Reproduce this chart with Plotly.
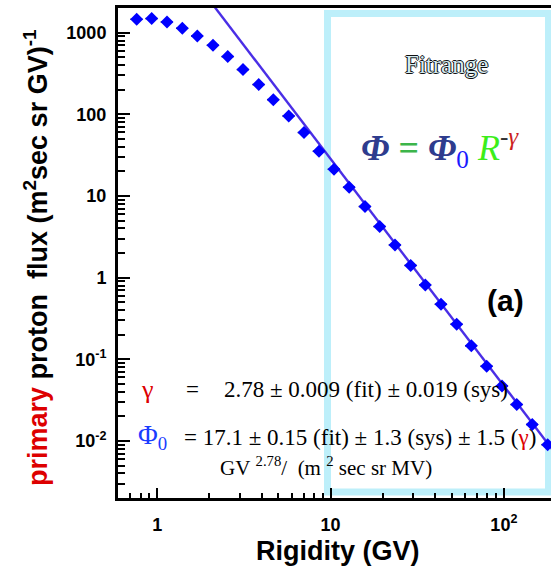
import numpy as np
import plotly.graph_objects as go

# ---- data ----
rigidity = [0.760, 0.928, 1.137, 1.394, 1.701, 2.096, 2.549, 3.123, 3.847, 4.671,
            5.731, 7.022, 8.574, 10.46, 12.80, 15.79, 19.20, 23.53, 28.99, 35.20,
            43.36, 53.41, 64.86, 79.58, 97.5, 118.6, 145.8, 178.9]
flux = [1455, 1484, 1349, 1129, 908, 699, 508, 352, 231, 151,
        95.3, 59.7, 35.3, 21.2, 12.8, 7.41, 4.22, 2.51, 1.41, 0.814,
        0.472, 0.269, 0.146, 0.0823, 0.0472, 0.0279, 0.0159, 0.0090]
gamma = 2.78
phi0 = 17.1          # GV^2.78 / (m^2 sec sr MV)
phi0_gv = phi0 * 1000.0

x_tickvals = [1, 10, 100]
x_ticktext = ["1", "10", "10<sup>2</sup>"]
y_tickvals = [0.01, 0.1, 1, 10, 100, 1000]
y_ticktext = ["10<sup>-2</sup>", "10<sup>-1</sup>", "1", "10", "100", "1000"]
x_minor = [m * d for d in (0.1, 1, 10, 100) for m in range(2, 10)]
y_minor = [m * d for d in (0.001, 0.01, 0.1, 1, 10, 100, 1000) for m in range(2, 10)]

# ---- layout geometry (pixels) ----
W, H = 551, 569
L, R, T, B = 118, 551, 8, 498
def px(x):
    return (x - L) / (R - L)
def py(y):
    return (B - y) / (B - T)

SANS = "Liberation Sans, Arial, sans-serif"
SERIF = "Liberation Serif, Times New Roman, serif"

fit_x = np.logspace(np.log10(0.5), np.log10(250), 50)
fit_y = phi0_gv * fit_x ** (-gamma)

fig = go.Figure()
fig.add_trace(go.Scatter(x=fit_x, y=fit_y, mode="lines",
                         line=dict(color="#4a2ee6", width=2.4), hoverinfo="skip"))
fig.add_trace(go.Scatter(x=rigidity, y=flux, mode="markers",
                         marker=dict(symbol="diamond", size=10, color="#0000ff",
                                     line=dict(width=0)),
                         error_x=dict(type="percent", value=8, thickness=1.5,
                                      width=0, color="#222222"),
                         cliponaxis=False))

fig.add_shape(type="rect", xref="paper", yref="paper",
              x0=px(327.5), x1=px(548.5), y0=py(492), y1=py(13.5),
              line=dict(color="#bdeffa", width=7), layer="below")

ann = []
def A(text, x, y, size, family=SERIF, color="black", xanchor="center", weight="normal", **kw):
    ann.append(dict(text=text, x=px(x), y=py(y), xref="paper", yref="paper",
                    showarrow=False, xanchor=xanchor, yanchor="middle",
                    font=dict(size=size, family=family, color=color, weight=weight), **kw))

A("Fitrange", 446, 65, 25, color="#d5ebf2")
ann[-1]["font"]["shadow"] = "1px 0 0 #111, -1px 0 0 #111, 0 1px 0 #111, 0 -1px 0 #111"
A("<b><i><span style='color:#2e3c8e'>Φ</span></i></b>&nbsp;"
  "<b><span style='color:#3cb54a'>=</span></b>&nbsp;"
  "<b><i><span style='color:#2e3c8e'>Φ</span></i></b><sub><span style='color:#1a1aff'>0</span></sub>&nbsp;"
  "<i><span style='color:#3cee1a'>R</span></i><sup><span style='color:#333'>-</span>"
  "<i><span style='color:#cc1f1f'>γ</span></i></sup>", 440, 148, 36)
A("(a)", 505, 300, 30, family=SANS, weight="bold")

A("γ", 147, 389, 26, color="#dd0000")
A("=", 192, 389, 23)
A("2.78 ± 0.009 (fit) ± 0.019 (sys)", 222, 389, 23, xanchor="left")
A("Φ<sub>0</sub>", 136, 437, 27, color="#1a3cff", xanchor="left")
A("= 17.1 ± 0.15 (fit) ± 1.3 (sys) ± 1.5 (<span style='color:#dd0000'>γ</span>)",
  182, 437, 23, xanchor="left")
A("GV&nbsp;<sup>2.78</sup>/&nbsp;&nbsp;(m&nbsp;<sup>2</sup>&nbsp;sec&nbsp;sr&nbsp;MV)",
  218, 466, 21, xanchor="left")

A("<span style='color:#dd0000'>primary</span> proton&nbsp; flux (m<sup>2</sup>sec sr GV)<sup>-1</sup>",
  36, 258, 27, family=SANS, weight="bold", textangle=-90)
A("Rigidity (GV)", 338, 551, 27, family=SANS, weight="bold")

fig.update_layout(
    width=W, height=H,
    margin=dict(l=L, r=W - R, t=T, b=H - B, pad=0, autoexpand=False),
    paper_bgcolor="white", plot_bgcolor="white",
    showlegend=False, annotations=ann,
    xaxis=dict(type="log", range=[np.log10(0.593), np.log10(187)],
               tickvals=x_tickvals, ticktext=x_ticktext,
               ticks="inside", ticklen=10, tickwidth=1.5, tickcolor="black",
               minor=dict(tickvals=x_minor, ticks="inside", ticklen=5,
                          tickwidth=1.5, tickcolor="black"),
               showgrid=False, zeroline=False, automargin=False,
               showline=True, linewidth=3, linecolor="black", mirror=True,
               tickfont=dict(family=SANS, size=18, color="black", weight="bold"),
               ticklabelstandoff=8),
    yaxis=dict(type="log", range=[np.log10(0.002), np.log10(2000)],
               tickvals=y_tickvals, ticktext=y_ticktext,
               ticks="inside", ticklen=12, tickwidth=1.5, tickcolor="black",
               minor=dict(tickvals=y_minor, ticks="inside", ticklen=7,
                          tickwidth=1.5, tickcolor="black"),
               showgrid=False, zeroline=False, automargin=False,
               showline=True, linewidth=3, linecolor="black", mirror=False,
               tickfont=dict(family=SANS, size=18, color="black", weight="bold"),
               ticklabelstandoff=5),
)

fig.write_html("out.html", config={"displayModeBar": False},
               post_script="document.body.style.margin='0';document.body.style.overflow='hidden';")
